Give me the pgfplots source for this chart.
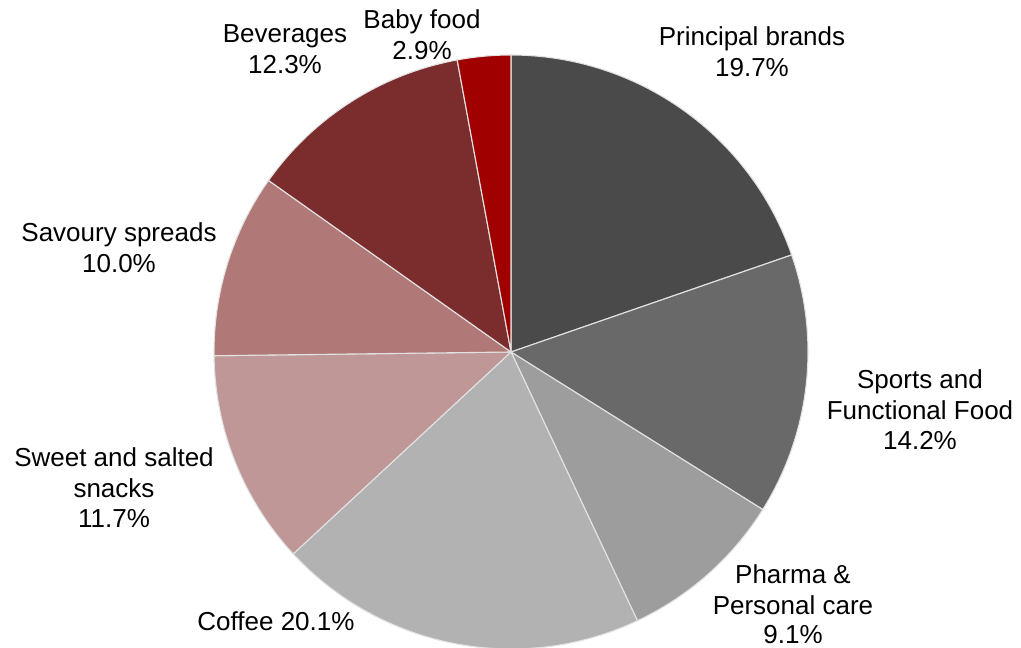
\documentclass[border=0pt]{standalone}
\usepackage{fontspec}
\setmainfont{Liberation Sans}
\usepackage{pgfplots}
\usepackage{pgfplotstable}
\pgfplotsset{compat=1.18}

\definecolor{cPrin}{HTML}{4A4A4A}
\definecolor{cSport}{HTML}{696969}
\definecolor{cPharma}{HTML}{9D9D9D}
\definecolor{cCoffee}{HTML}{B2B2B2}
\definecolor{cSweet}{HTML}{BF9797}
\definecolor{cSavoury}{HTML}{B07876}
\definecolor{cBev}{HTML}{7B2D2E}
\definecolor{cBaby}{HTML}{A00000}
\definecolor{edge}{HTML}{E2E2E2}

% share of each segment, clockwise from 12 o'clock
\pgfplotstableread[col sep=comma]{
segment,value,colour
Principal brands,19.7,cPrin
Sports and Functional Food,14.2,cSport
Pharma and Personal care,9.1,cPharma
Coffee,20.1,cCoffee
Sweet and salted snacks,11.7,cSweet
Savoury spreads,10.0,cSavoury
Beverages,12.3,cBev
Baby food,2.9,cBaby
}\piedata

\tikzset{lbl/.style={inner sep=0pt, anchor=base}}

\begin{document}
\begin{tikzpicture}[font=\fontsize{26bp}{30bp}\selectfont]
\path[use as bounding box] (0,0) rectangle (1021bp,648bp);
\begin{axis}[
  at={(0,0)}, anchor=south west,
  scale only axis, width=1021bp, height=648bp,
  xmin=0, xmax=1021, ymin=0, ymax=648,
  hide axis,
  clip=false,
]
  \pgfplotstablegetrowsof{\piedata}
  \pgfmathtruncatemacro\nrows{\pgfplotsretval-1}
  \def\startang{90}
  \pgfplotsforeachungrouped \i in {0,...,\nrows} {
    \pgfplotstablegetelem{\i}{value}\of{\piedata}
    \let\val\pgfplotsretval
    \pgfplotstablegetelem{\i}{colour}\of{\piedata}
    \let\col\pgfplotsretval
    \pgfmathsetmacro\endang{\startang-3.6*\val}
    \edef\wedge{\noexpand\fill[fill=\col, draw=edge, line width=1.1bp, line join=round]
      (axis cs:511,296) -- ++(\startang:297bp)
      arc[start angle=\startang, end angle=\endang, radius=297bp] -- cycle;}
    \wedge
    \let\startang\endang
  }

  \node[lbl] at (axis cs:752,602) {Principal brands};
  \node[lbl] at (axis cs:752,571) {19.7\%};
  \node[lbl] at (axis cs:920,259) {Sports and};
  \node[lbl] at (axis cs:920,228.5) {Functional Food};
  \node[lbl] at (axis cs:920,198) {14.2\%};
  \node[lbl] at (axis cs:793,64) {Pharma \&};
  \node[lbl] at (axis cs:793,33.5) {Personal care};
  \node[lbl] at (axis cs:793,4) {9.1\%};
  \node[lbl] at (axis cs:276,17) {Coffee 20.1\%};
  \node[lbl] at (axis cs:114,181) {Sweet and salted};
  \node[lbl] at (axis cs:114,150) {snacks};
  \node[lbl] at (axis cs:114,120) {11.7\%};
  \node[lbl] at (axis cs:119,406) {Savoury spreads};
  \node[lbl] at (axis cs:119,375) {10.0\%};
  \node[lbl] at (axis cs:285,605) {Beverages};
  \node[lbl] at (axis cs:285,574) {12.3\%};
  \node[lbl] at (axis cs:422,619) {Baby food};
  \node[lbl] at (axis cs:422,588) {2.9\%};
\end{axis}
\end{tikzpicture}
\end{document}
